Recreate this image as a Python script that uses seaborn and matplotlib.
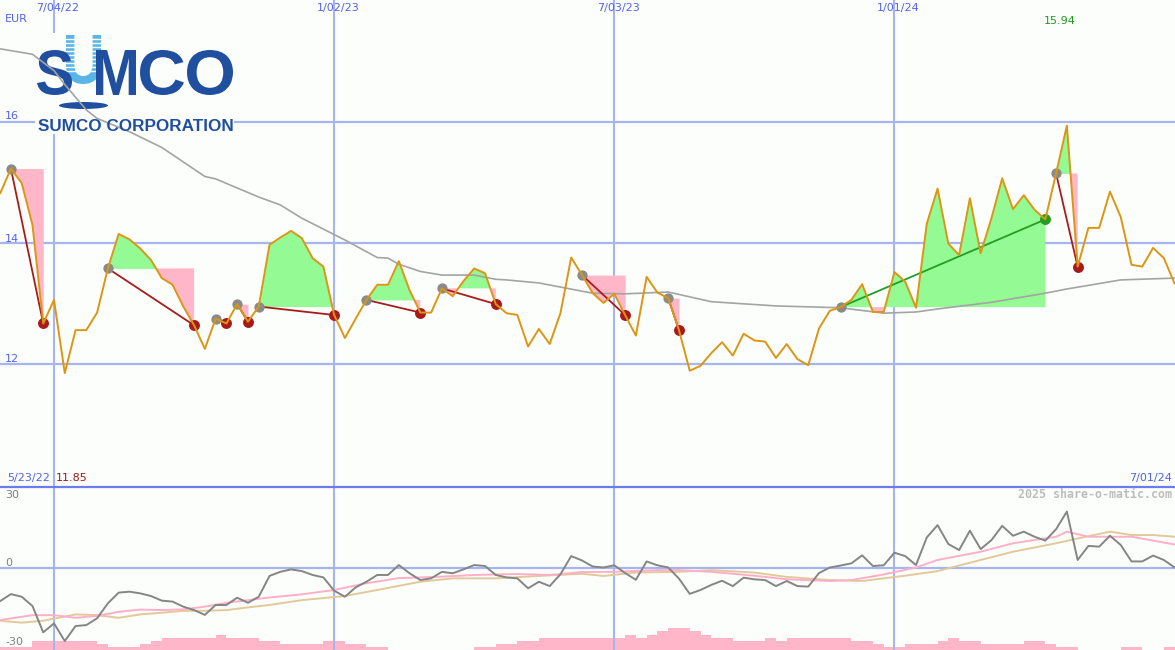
import numpy as np
import pandas as pd
import matplotlib
matplotlib.use("Agg")
import matplotlib.pyplot as plt
import matplotlib.dates as mdates
import matplotlib.transforms as mtransforms
from matplotlib.textpath import TextPath
from matplotlib.patches import PathPatch, Rectangle, Ellipse
from matplotlib.lines import Line2D
from matplotlib.font_manager import FontProperties
import seaborn as sns


# ------------------------------------------------------------
# 1. Data (5/30/22 .. 7/01/24)
# ------------------------------------------------------------

START_DATE = "2022-05-30"

prices = [
    14.82, 15.23, 14.99, 14.30, 12.67, 13.06, 11.85, 12.56, 12.56, 12.85,
    13.58, 14.15, 14.06, 13.91, 13.72, 13.42, 13.31, 12.95, 12.64, 12.25,
    12.75, 12.67, 12.99, 12.70, 12.95, 13.97, 14.09, 14.20, 14.08, 13.75,
    13.61, 12.81, 12.43, 12.75, 13.06, 13.31, 13.31, 13.70, 13.22, 12.85,
    12.85, 13.25, 13.12, 13.37, 13.58, 13.50, 12.99, 12.84, 12.81, 12.29,
    12.58, 12.33, 12.84, 13.76, 13.47, 13.17, 13.01, 13.16, 12.81, 12.47,
    13.44, 13.18, 13.09, 12.56, 11.89, 11.97, 12.18, 12.36, 12.14, 12.50,
    12.39, 12.37, 12.10, 12.33, 12.08, 11.98, 12.59, 12.88, 12.94, 13.06,
    13.32, 12.86, 12.86, 13.52, 13.36, 12.93, 14.32, 14.90, 13.99, 13.80,
    14.74, 13.83, 14.41, 15.07, 14.56, 14.79, 14.55, 14.39, 15.15, 15.94,
    13.61, 14.25, 14.25, 14.85, 14.43, 13.64, 13.61, 13.92, 13.75, 13.33,
]

# moving average (grey line), sampled weeks
ma_weeks = [0, 3, 5, 6, 8, 9, 12, 15, 19, 20, 24, 26, 28, 32, 35, 36, 37, 39,
            41, 44, 46, 47, 50, 55, 58, 62, 66, 72, 78, 82, 85, 87, 92, 97,
            99, 104, 109]
ma_values = [17.21, 17.12, 16.85, 16.62, 16.20, 16.06, 15.84, 15.58, 15.10,
             15.06, 14.76, 14.63, 14.41, 14.05, 13.76, 13.75, 13.65, 13.53,
             13.47, 13.47, 13.40, 13.39, 13.34, 13.17, 13.16, 13.19, 13.03,
             12.96, 12.93, 12.84, 12.86, 12.91, 13.02, 13.17, 13.24, 13.39,
             13.42]

# trades: start week -> end week
trade_starts = [1, 10, 20, 22, 24, 34, 41, 54, 62, 78, 98]
trade_ends = [4, 18, 21, 23, 31, 39, 46, 58, 63, 97, 100]

# lower panel: momentum (% from average), one value per week
momentum = [
    -13.8, -10.9, -12.0, -15.8, -26.7, -23.0, -30.3, -24.1, -23.7, -20.9,
    -14.7, -10.3, -9.9, -10.6, -11.7, -13.6, -14.0, -16.1, -17.5, -19.5,
    -15.4, -15.4, -12.4, -14.5, -12.0, -3.4, -1.7, -0.7, -1.4, -3.0,
    -4.0, -9.5, -12.0, -8.1, -5.8, -3.0, -3.0, 1.1, -2.3, -5.1,
    -4.4, -1.7, -2.3, -0.7, 1.1, 0.7, -3.0, -4.0, -4.4, -8.5,
    -5.8, -7.6, -2.7, 4.8, 3.0, 0.5, 0.1, 1.0, -2.2, -5.0,
    2.6, 1.0, 0.1, -4.5, -10.8, -9.2, -7.1, -5.4, -7.6, -4.1,
    -4.8, -5.1, -7.6, -5.5, -7.6, -7.8, -2.2, 0.1, 0.9, 1.8,
    5.1, 0.7, 1.0, 6.2, 4.8, 1.1, 12.5, 17.6, 9.8, 7.3,
    15.3, 7.7, 11.4, 17.3, 13.2, 14.9, 12.8, 11.2, 15.9, 23.2,
    3.2, 9.0, 8.7, 13.2, 9.4, 2.6, 2.6, 5.0, 3.2, 0.1,
]

pink_weeks = [0, 3, 5, 7, 9, 11, 13, 15, 17, 19, 21, 23, 25, 28, 31, 34, 37,
              41, 44, 48, 51, 54, 57, 61, 63, 66, 70, 73, 77, 79, 82, 85, 87,
              91, 94, 98, 99, 101, 105, 109]
pink_values = [-21.6, -19.6, -19.6, -20.7, -19.9, -18.2, -17.3, -17.5, -17.2,
               -16.1, -14.5, -13.4, -12.3, -11.0, -9.2, -6.4, -4.3, -3.7, -3.0,
               -2.6, -3.0, -1.8, -1.7, -1.0, -1.0, -1.7, -3.3, -4.8, -5.5,
               -5.1, -2.8, 0.1, 3.2, 6.6, 10.1, 12.8, 14.9, 12.8, 12.8, 9.6]

tan_weeks = [0, 2, 4, 6, 7, 9, 11, 13, 15, 17, 19, 21, 23, 25, 28, 32, 35, 39,
             42, 46, 50, 54, 56, 59, 63, 66, 70, 73, 77, 80, 84, 87, 91, 94,
             98, 100, 103, 105, 107, 109]
tan_values = [-21.9, -22.7, -21.9, -20.2, -19.3, -19.6, -20.7, -19.3, -18.6,
              -17.8, -17.8, -17.5, -16.4, -15.4, -13.4, -11.7, -9.2, -5.8,
              -4.4, -4.4, -3.4, -2.5, -3.4, -2.0, -1.7, -1.0, -2.0, -3.8,
              -5.1, -5.5, -3.3, -1.4, 3.2, 6.6, 10.1, 12.1, 14.9, 13.5, 13.5,
              12.8]

# volume bars (relative height)
volumes = [
    1, 1, 1, 3, 3, 3, 3, 3, 3, 2,
    1, 1, 1, 2, 3, 4, 4, 4, 4, 4,
    5, 4, 4, 4, 3, 3, 2, 2, 2, 2,
    3, 3, 2, 2, 1, 1, 0, 0, 0, 0,
    0, 0, 0, 0, 1, 1, 2, 2, 3, 3,
    4, 4, 4, 4, 4, 4, 4, 4, 5, 4,
    5, 6, 7, 7, 6, 5, 4, 4, 3, 3,
    3, 4, 3, 4, 4, 4, 4, 4, 4, 3,
    3, 2, 1, 1, 2, 2, 2, 3, 4, 3,
    3, 2, 2, 2, 2, 3, 3, 2, 1, 1,
    0, 0, 0, 0, 1, 1, 0, 0, 1, 1,
]

grid_dates = ["2022-07-04", "2023-01-02", "2023-07-03", "2024-01-01"]
grid_labels = ["7/04/22", "1/02/23", "7/03/23", "1/01/24"]
price_levels = [12, 14, 16]
momentum_labels = [30, 0, -30]


# ------------------------------------------------------------
# 2. Style
# ------------------------------------------------------------

W, H = 1175, 650
BG = "#FCFEFC"
GRID = "#A6B4F0"
SEP = "#6B7CF0"
TXT_BLUE = "#5262F0"
ORANGE = "#DC9614"
MA_GREY = "#A4A4A4"
FILL_GREEN = "#94FA94"
FILL_PINK = "#FFB6C8"
RED_LINE = "#A81C1C"
GREEN_LINE = "#229E22"
DOT_GREY = "#8A8A8A"
LOGO_DARK = "#1F4F9E"
LOGO_LIGHT = "#5BB6E8"

sns.set_style("white")
plt.rcParams["font.family"] = ["DejaVu Sans"]

# pixel coordinates with the origin at the top-left corner
PIX = mtransforms.Affine2D().scale(1, -1).translate(0, H)


def draw_chart():
    price_arr = np.array(prices)
    dates = pd.date_range(START_DATE, periods=len(prices), freq="7D")
    date_num = mdates.date2num(dates)
    gdates = pd.to_datetime(grid_dates)

    fig = plt.figure(figsize=(W / 100, H / 100), dpi=100, facecolor=BG)
    split = 1 - 487 / H
    ax = fig.add_axes([0, split, 1, 1 - split])
    ax_low = fig.add_axes([0, 0, 1, split], sharex=ax)
    ax_vol = ax_low.twinx()
    ax_low.set_zorder(2)
    ax_vol.set_zorder(1)
    for a in (ax, ax_low, ax_vol):
        a.set_axis_off()

    # --- grid
    for d in gdates:
        ax.axvline(d, color=GRID, lw=1.5, zorder=0.5)
        ax_low.axvline(d, color=GRID, lw=1.5, zorder=0.5)
    for lv in price_levels:
        ax.axhline(lv, color=GRID, lw=1.6, zorder=0.5)
    ax_low.axhline(0, color=GRID, lw=1.6, zorder=0.5)

    # --- logo
    ax.add_artist(Rectangle((35, 33), 199, 101, transform=PIX,
                            facecolor=BG, edgecolor="none", zorder=1.0))
    fp = FontProperties(family="Liberation Sans", weight="bold")
    letters = [("U", 66, 35, 101, 84, LOGO_LIGHT),
               ("S", 37, 50, 72, 95, LOGO_DARK),
               ("M", 96, 50, 136, 95, LOGO_DARK),
               ("C", 140, 50, 184, 95, LOGO_DARK),
               ("O", 187, 50, 233, 95, LOGO_DARK)]
    for ch, left, top, right, bottom, col in letters:
        path = TextPath((0, 0), ch, size=100, prop=fp)
        ext = path.get_extents()
        sx = (right - left) / ext.width
        sy = (bottom - top) / ext.height
        trf = (mtransforms.Affine2D().translate(-ext.x0, -ext.y0)
               .scale(sx, sy).translate(left, H - bottom))
        ax.add_artist(PathPatch(path, transform=trf, facecolor=col,
                                edgecolor="none", zorder=1.3 if ch != "U" else 1.1))
        if ch == "U":
            for yy in np.arange(38.5, 72, 4.0):
                ax.add_artist(Line2D([left, right], [yy, yy], transform=PIX,
                                     color=BG, lw=1.0, zorder=1.2))
    ax.add_artist(Ellipse((83.5, 105.5), 49, 7, transform=PIX,
                          facecolor=LOGO_DARK, edgecolor="none", zorder=1.3))
    fig.text(38, 126.5, "SUMCO CORPORATION", transform=PIX, va="center",
             ha="left", fontsize=12.3, color=LOGO_DARK,
             family="Liberation Sans", weight="bold")

    # --- trade fills
    for s, e in zip(trade_starts, trade_ends):
        xs = date_num[s:e + 1]
        ys = price_arr[s:e + 1]
        level = price_arr[s]
        ax.fill_between(xs, ys, level, where=ys >= level, interpolate=True,
                        color=FILL_GREEN, lw=0, zorder=1.5)
        ax.fill_between(xs, ys, level, where=ys <= level, interpolate=True,
                        color=FILL_PINK, lw=0, zorder=1.5)

    # --- moving average
    sns.lineplot(x=dates[ma_weeks], y=ma_values, ax=ax, color=MA_GREY,
                 lw=1.2, zorder=2)

    # --- trade lines and dots
    for s, e in zip(trade_starts, trade_ends):
        won = price_arr[e] > price_arr[s]
        ax.plot(dates[[s, e]], price_arr[[s, e]],
                color=GREEN_LINE if won else RED_LINE, lw=1.3, zorder=2.5)
        ax.scatter(dates[e], price_arr[e], s=62, lw=0, zorder=2.8,
                   color=GREEN_LINE if won else "#A81A1A")
    ax.scatter(dates[trade_starts], price_arr[trade_starts], s=55, lw=0,
               color=DOT_GREY, zorder=2.8)

    # --- price line
    sns.lineplot(x=dates, y=price_arr, ax=ax, color=ORANGE, lw=1.4, zorder=3)

    # --- lower panel
    ax_vol.bar(dates, volumes, width=7, align="edge", color=FILL_PINK, lw=0)
    sns.lineplot(x=dates[tan_weeks], y=tan_values, ax=ax_low,
                 color="#E2C99A", lw=1.4, zorder=2)
    sns.lineplot(x=dates[pink_weeks], y=pink_values, ax=ax_low,
                 color="#FFB0C8", lw=1.4, zorder=2.1)
    sns.lineplot(x=dates, y=momentum, ax=ax_low, color="#858585",
                 lw=1.4, zorder=3)

    # --- limits
    ax.set_xlim(dates[0] - pd.Timedelta(hours=2), dates[-1] + pd.Timedelta(hours=6))
    ax.set_ylim(9.967, 18.017)
    ax_low.set_ylim(-34.0, 33.35)
    ax_vol.set_ylim(0, 52.6)

    # --- separator between panels
    fig.add_artist(Line2D([0, 1], [split, split], transform=fig.transFigure,
                          color=SEP, lw=1.6, zorder=5))

    # --- texts
    small = dict(fontsize=8, va="center")
    for d, lab in zip(gdates, grid_labels):
        ax.annotate(lab, xy=(d, 1), xycoords=("data", "axes fraction"),
                    xytext=(4, -8.5), textcoords="offset pixels",
                    ha="center", color=TXT_BLUE, **small)
    fig.text(5, 19.5, "EUR", transform=PIX, ha="left", color=TXT_BLUE, **small)
    label_y = {16: 116, 14: 238.5, 12: 359}
    for lv in price_levels:
        fig.text(5, label_y[lv], str(lv), transform=PIX, ha="left",
                 color=TXT_BLUE, **small)

    i_max = int(np.argmax(price_arr))
    ax.annotate(f"{price_arr[i_max]:.2f}", xy=(dates[i_max], 1),
                xycoords=("data", "axes fraction"), xytext=(-7, -20.5),
                textcoords="offset pixels", ha="center", color="#1E9A1E", **small)
    fig.text(7, 478, "5/23/22", transform=PIX, ha="left", color=TXT_BLUE, **small)
    fig.text(56, 478, f"{price_arr.min():.2f}", transform=PIX, ha="left",
             color="#A01818", **small)
    fig.text(1172, 478, "7/01/24", transform=PIX, ha="right",
             color=TXT_BLUE, **small)
    fig.text(1172, 495, "2025 share-o-matic.com", transform=PIX, ha="right",
             va="center", fontsize=8.4, color="#BDBDBD", family="DejaVu Sans Mono",
             weight="bold")
    mom_y = {30: 495.5, 0: 562.5, -30: 642}
    for v in momentum_labels:
        fig.text(5, mom_y[v], str(v), transform=PIX, ha="left",
                 color="#808080", zorder=6, **small)

    fig.savefig("out.png", dpi=100, facecolor=BG)
    plt.close(fig)


if __name__ == "__main__":
    draw_chart()
